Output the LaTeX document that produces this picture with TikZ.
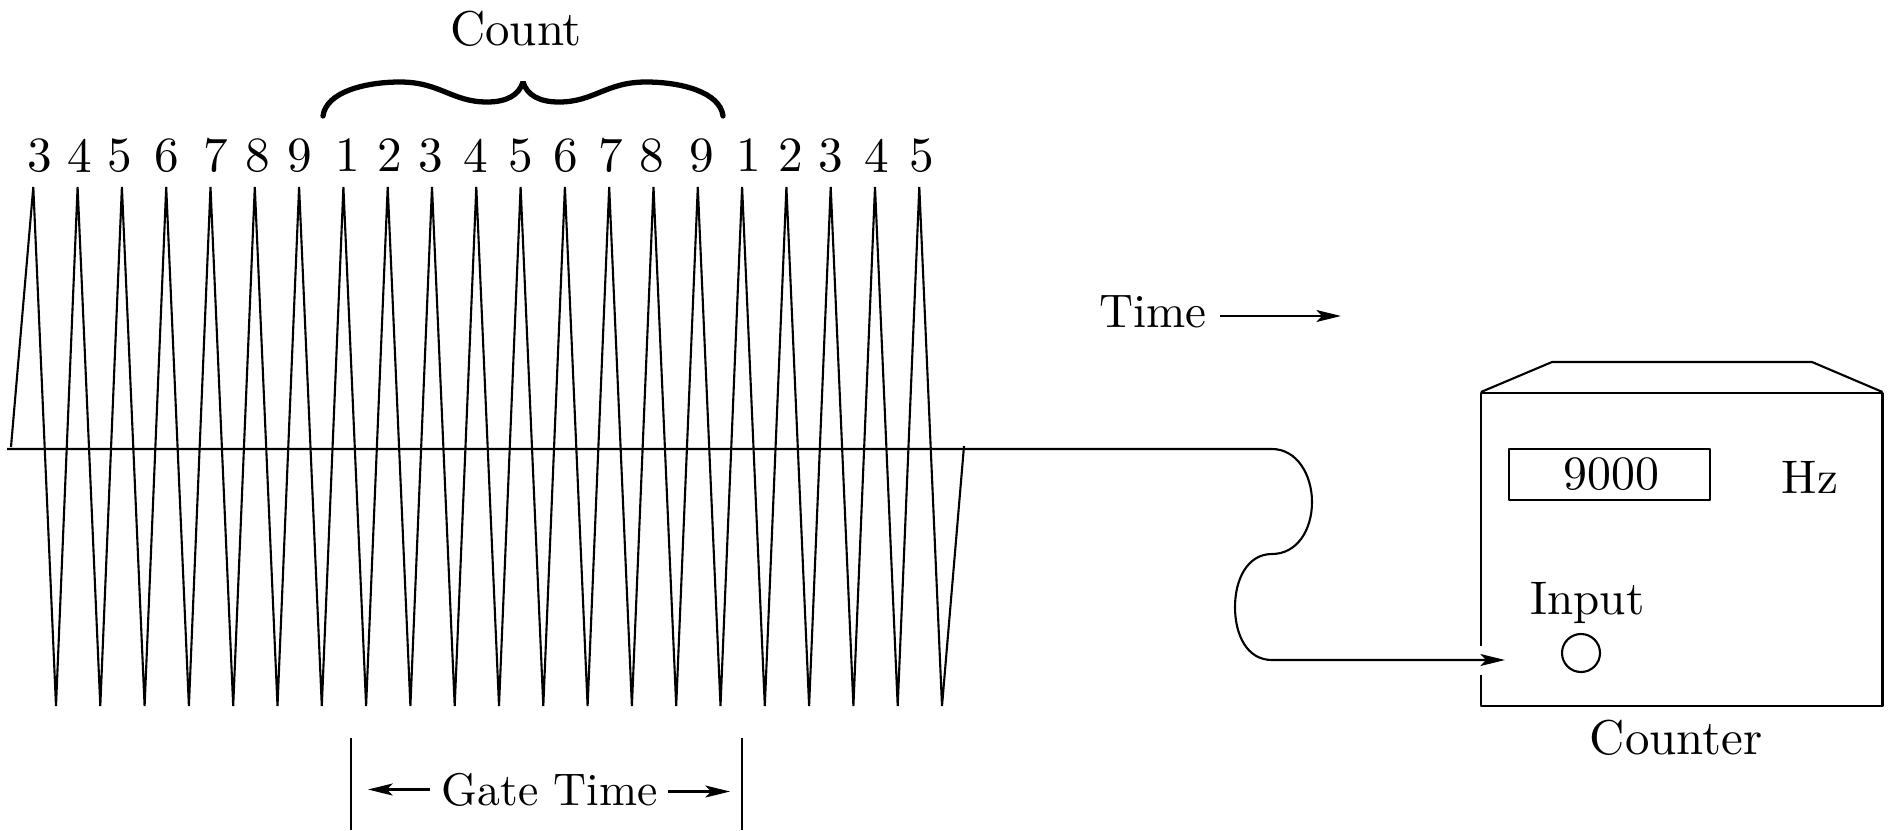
\documentclass[tikz,border=0pt]{standalone}
\usepackage{fontspec}
\setmainfont{lmroman10-regular}[Extension=.otf]
\usepackage{tikz}
\usetikzlibrary{arrows.meta,positioning}

\begin{document}
\begin{tikzpicture}[
    x=0.01cm,
    y=-0.01cm,
    line width=0.6pt,
    line join=bevel,
    >={Stealth[length=7pt,width=3.4pt,inset=1.6pt]},
    word/.style={
        inner sep=0pt,
        anchor=base,
        font=\fontsize{13.4}{15}\selectfont
    },
    bigword/.style={
        word,
        font=\fontsize{13.9}{15}\selectfont
    },
    digit/.style={
        inner sep=0pt,
        font=\fontsize{14}{16}\selectfont
    },
    display/.style={
        draw,
        rectangle,
        inner sep=0pt,
        minimum width=2.01cm,
        minimum height=0.51cm,
        font=\fontsize{13.6}{16}\selectfont
    },
    jack/.style={
        draw,
        circle,
        inner sep=0pt,
        minimum size=0.38cm
    }
]
\useasboundingbox (0,0) rectangle (1891,830);

% ==========================================================
% WAVEFORM
% ==========================================================
\draw (11,447)
    foreach \i in {0,...,20} { -- ({33.3+44.3*\i},187) -- ({56+44.3*\i},706) }
    -- (964,446);

% ==========================================================
% CYCLE NUMBERS
% ==========================================================
\foreach \x/\d [count=\i] in {40/3,80/4,120/5,167/6,216/7,258/8,300/9,348/1,390/2,431/3,476/4,
    521/5,566/6,611/7,652/8,702/9,749/1,791/2,831/3,877/4,922/5}
    \node[digit] (num\i) at (\x,155.5) {\d};

% ==========================================================
% COUNT BRACE
% ==========================================================
\node[bigword] (count) at (516,45) {Count};
\draw[line width=1.5pt, line cap=round] (323,116)
    .. controls (326,92) and (365,82) .. (400,82)
    .. controls (440,82) and (452,102) .. (487,102)
    .. controls (507,102) and (519,95) .. (523,82)
    .. controls (527,95) and (539,102) .. (559,102)
    .. controls (594,102) and (606,82) .. (646,82)
    .. controls (681,82) and (720,92) .. (723,116);

% ==========================================================
% GATE TIME
% ==========================================================
\node[word, font=\fontsize{13}{15}\selectfont] (gate) at (550,805) {Gate Time};
\coordinate (gateL) at (351,738);
\coordinate (gateR) at (742,738);
\draw (gateL) -- ++(0,92);
\draw (gateR) -- ++(0,92);
\draw[->] (430,789.5) -- (368,789.5);
\draw[->] (668,791.5) -- (730,791.5);

% ==========================================================
% TIME
% ==========================================================
\node[word] (time) at (1153,327) {Time};
\coordinate (timeEnd) at (1341,316);
\draw[->] (1220,316) -- (timeEnd);

% ==========================================================
% COUNTER
% ==========================================================
\coordinate (gapTop) at (1481,645.7);
\coordinate (gapBot) at (1481,675);
\draw (gapTop) -- (1481,393) -- (1882.5,393) -- (1882.5,705.7) -- (1481,705.7) -- (gapBot);
\draw (1481,392) -- (1552,362) -- (1812,362) -- (1882.5,392);

\node[display] (display) at (1609.5,474.2) {\hspace{1.2pt}9000};
\node[word] (hz) at (1810,493) {Hz};
\node[word] (input) at (1587.5,614) {Input};
\node[jack] (jack) at (1581,653) {};
\node[bigword] (counter) at (1676,754) {Counter};

% ==========================================================
% SIGNAL LINE
% ==========================================================
\coordinate (lineStart) at (7,449);
\coordinate (inputTip) at (1505,660);
\draw[->] (lineStart) -- (1272,449)
    .. controls (1297,449) and (1312,475) .. (1312,502)
    .. controls (1312,530) and (1297,554) .. (1272,554)
    .. controls (1247,554) and (1235,580) .. (1235,607)
    .. controls (1235,635) and (1247,660) .. (1272,660)
    -- (inputTip);

\end{tikzpicture}
\end{document}
